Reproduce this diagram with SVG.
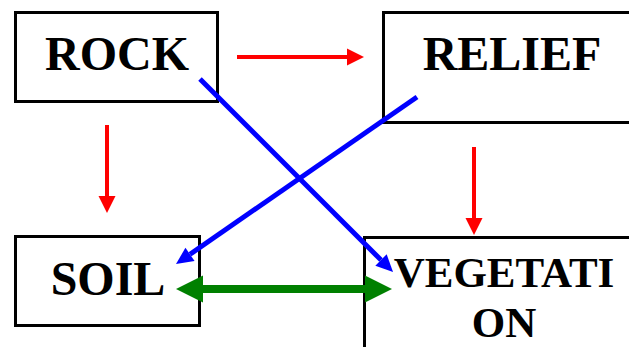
<svg xmlns="http://www.w3.org/2000/svg" width="629" height="347" viewBox="0 0 629 347">
<style>
.box{fill:#fff;stroke:#000;stroke-width:3}
.lbl{font-family:"Liberation Serif","Times New Roman",serif;font-weight:bold;font-size:48px;fill:#000;text-anchor:middle}
.red{stroke:#ff0000;stroke-width:4;fill:none}
.blue{stroke:#0000ff;stroke-width:5;fill:none}
.green{stroke:#008000;stroke-width:8;fill:none}
</style>
<defs>
<marker id="hr" markerUnits="userSpaceOnUse" markerWidth="17" markerHeight="17" refX="0" refY="8.5" orient="auto" overflow="visible"><path d="M0,0 L17,8.5 L0,17 z" fill="#ff0000"/></marker>
<marker id="hb" markerUnits="userSpaceOnUse" markerWidth="17" markerHeight="16" refX="0" refY="8" orient="auto" overflow="visible"><path d="M0,0 L17,8 L0,16 z" fill="#0000ff"/></marker>
<marker id="hg" markerUnits="userSpaceOnUse" markerWidth="27" markerHeight="27" refX="0" refY="13.5" orient="auto-start-reverse" overflow="visible"><path d="M0,0 L27,13.5 L0,27 z" fill="#008000"/></marker>
</defs>
<rect width="629" height="347" fill="#fff"/>
<g id="rock"><rect class="box" x="15.5" y="12.5" width="202" height="89"/><text class="lbl" x="117" y="70">ROCK</text></g>
<g id="relief"><rect class="box" x="383.5" y="12.5" width="260" height="110"/><text class="lbl" x="512" y="70">RELIEF</text></g>
<g id="soil"><rect class="box" x="15.5" y="236.5" width="184" height="89"/><text class="lbl" x="108" y="295">SOIL</text></g>
<g id="vegetation"><rect class="box" x="364.5" y="237.5" width="280" height="120"/><text class="lbl" style="font-size:43px" x="504" y="287">VEGETATI</text><text class="lbl" style="font-size:43px" x="504" y="337">ON</text></g>
<g id="connectors">
<line class="red" x1="237" y1="57" x2="347" y2="57" marker-end="url(#hr)"/>
<line class="red" x1="107" y1="125" x2="107" y2="196" marker-end="url(#hr)"/>
<line class="red" x1="474" y1="147" x2="474" y2="218" marker-end="url(#hr)"/>
<line class="blue" x1="200" y1="79" x2="381" y2="260" marker-end="url(#hb)"/>
<line class="blue" x1="417" y1="97" x2="190" y2="254.3" marker-end="url(#hb)"/>
<line class="green" x1="203" y1="289" x2="365" y2="289" marker-start="url(#hg)" marker-end="url(#hg)"/>
</g>
</svg>
